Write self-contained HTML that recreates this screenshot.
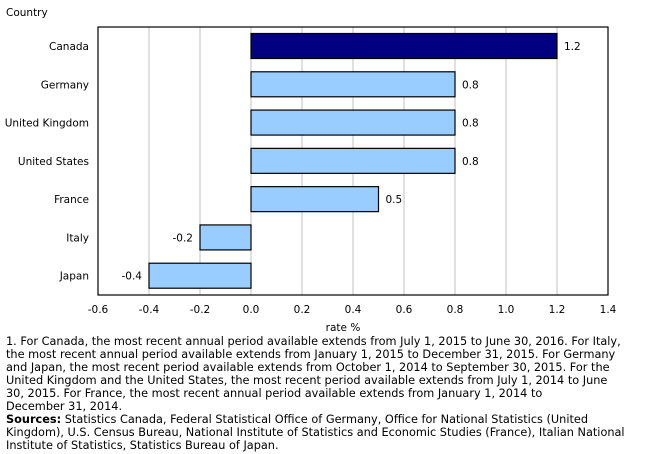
<!DOCTYPE html>
<html><head><meta charset="utf-8"><style>
body{margin:0;background:#fff;width:672px;height:454px;overflow:hidden;font-family:"DejaVu Sans","Liberation Sans",sans-serif;}
#notes{position:absolute;left:6px;top:335px;font-size:11.3px;line-height:13px;color:#000;letter-spacing:0;white-space:nowrap}
</style></head><body>
<svg id="chart" width="672" height="334" style="position:absolute;left:0;top:0" font-family="DejaVu Sans, Liberation Sans, sans-serif" font-size="10.5"></svg>
<div id="notes">1. For Canada, the most recent annual period available extends from July 1, 2015 to June 30, 2016. For Italy,<br>the most recent annual period available extends from January 1, 2015 to December 31, 2015. For Germany<br>and Japan, the most recent period available extends from October 1, 2014 to September 30, 2015. For the<br>United Kingdom and the United States, the most recent period available extends from July 1, 2014 to June<br>30, 2015. For France, the most recent annual period available extends from January 1, 2014 to<br>December 31, 2014.<br><b>Sources:</b> Statistics Canada, Federal Statistical Office of Germany, Office for National Statistics (United<br>Kingdom), U.S. Census Bureau, National Institute of Statistics and Economic Studies (France), Italian National<br>Institute of Statistics, Statistics Bureau of Japan.</div>
<script>
const categories=["Canada","Germany","United Kingdom","United States","France","Italy","Japan"];
const values=[1.2,0.8,0.8,0.8,0.5,-0.2,-0.4];
const valueLabels=["1.2","0.8","0.8","0.8","0.5","-0.2","-0.4"];
const ticks=[-0.6,-0.4,-0.2,0,0.2,0.4,0.6,0.8,1.0,1.2,1.4];
const tickLabels=["-0.6","-0.4","-0.2","0.0","0.2","0.4","0.6","0.8","1.0","1.2","1.4"];
const L=98,R=608,T=27,B=295,xmin=-0.6,xmax=1.4;
const x=v=>L+(v-xmin)/(xmax-xmin)*(R-L);
const rowH=(B-T)/categories.length;
const y=i=>T+i*rowH;
const svg=document.getElementById('chart');
const NS='http://www.w3.org/2000/svg';
function mk(tag,attrs,txt){const e=document.createElementNS(NS,tag);for(const k in attrs)e.setAttribute(k,attrs[k]);if(txt!==undefined)e.textContent=txt;svg.appendChild(e);return e;}
let t=mk('text',{x:6,y:16},'Country');


ticks.forEach((v,i)=>{
 if(i>0&&i<ticks.length-1){const g=mk('line',{x1:x(v),x2:x(v),y1:T,y2:B,stroke:'#c0c0c0','stroke-width':1});
 
 }
 const tl=mk('text',{x:x(v),y:B+18,'text-anchor':'middle'},tickLabels[i]);
 
 
});
categories.forEach((c,i)=>{
 const v=values[i];const x0=x(Math.min(0,v)),x1=x(Math.max(0,v));
 const r=mk('rect',{x:x0,y:y(i)+6.5,width:x1-x0,height:25,fill:i===0?'#000080':'#99ccff',stroke:'#000','stroke-width':1.2});
 
 
 const cl=mk('text',{x:L-9,y:y(i)+23,'text-anchor':'end'},c);
 
 
 const vl=mk('text',{x:v>=0?x1+7:x0-7,y:y(i)+23,'text-anchor':v>=0?'start':'end'},valueLabels[i]);
 
 
});
const f=mk('rect',{x:L,y:T,width:R-L,height:B-T,fill:'none',stroke:'#000','stroke-width':1.2});


const xt=mk('text',{x:(L+R)/2-10,y:B+36,'text-anchor':'middle'},'rate %');


</script>
</body></html>
